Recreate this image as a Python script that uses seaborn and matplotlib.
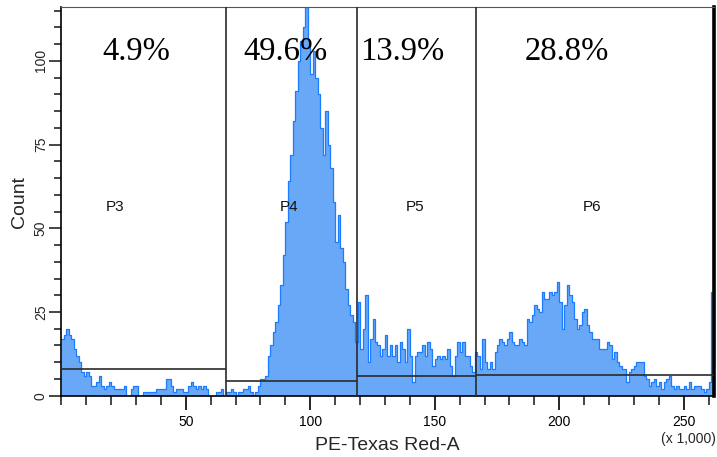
import numpy as np
import pandas as pd
import matplotlib
matplotlib.use("Agg")
import matplotlib.pyplot as plt
from matplotlib.ticker import MultipleLocator, FixedLocator
import seaborn as sns

# ---------------- data ----------------
# histogram counts, one per 1,000-unit channel (0..262 x 1,000)
counts = [
    17, 18, 20, 18, 17, 14, 12, 10, 7, 6,
    7, 6, 3, 3, 4, 6, 3, 2, 3, 4,
    3, 2, 2, 2, 2, 3, 0, 0, 2, 3,
    3, 0, 0, 1, 1, 1, 1, 1, 2, 2,
    2, 2, 5, 5, 3, 1, 2, 2, 2, 1,
    1, 3, 4, 3, 2, 3, 2, 3, 2, 0,
    0, 0, 1, 1, 2, 0, 1, 1, 2, 1,
    0, 1, 1, 2, 2, 3, 1, 0, 1, 3,
    5, 5, 6, 12, 15, 19, 22, 27, 33, 42,
    52, 64, 72, 82, 91, 100, 106, 110, 116, 106,
    96, 103, 95, 90, 80, 72, 85, 75, 68, 58,
    46, 54, 44, 40, 32, 27, 24, 22, 16, 28,
    14, 20, 30, 10, 17, 23, 16, 15, 12, 14,
    18, 12, 15, 12, 15, 10, 16, 14, 10, 20,
    12, 4, 12, 13, 13, 15, 12, 16, 14, 9,
    11, 12, 11, 12, 11, 14, 9, 6, 12, 16,
    13, 16, 12, 12, 9, 7, 13, 12, 8, 17,
    10, 8, 10, 8, 13, 15, 17, 16, 15, 17,
    19, 16, 15, 15, 17, 16, 15, 23, 22, 24,
    27, 26, 25, 31, 29, 29, 31, 30, 31, 34,
    28, 20, 27, 33, 30, 28, 23, 20, 21, 25,
    26, 21, 19, 17, 17, 17, 14, 14, 14, 16,
    15, 11, 13, 10, 9, 8, 8, 4, 7, 8,
    9, 10, 10, 10, 6, 5, 3, 4, 5, 3,
    4, 2, 4, 5, 6, 3, 2, 3, 2, 2,
    3, 2, 4, 2, 3, 3, 3, 2, 1, 2,
    4, 31,
]
n_bins = len(counts)
channels = np.arange(n_bins) + 0.5   # channel centres (x 1,000)

gate_names = ["P3", "P4", "P5", "P6"]
gate_starts = [0.0, 66.3, 118.8, 166.5]
gate_ends = [66.3, 118.8, 166.5, 262.144]
gate_levels = [8.1, 4.3, 5.8, 6.2]
gate_pcts = ["4.9%", "49.6%", "13.9%", "28.8%"]

x_major = [50, 100, 150, 200, 250]
y_major = [0, 25, 50, 75, 100]

df = pd.DataFrame({"channel": channels, "count": counts})

# ---------------- style ----------------
sns.set_style("white")
plt.rcParams["font.family"] = ["Liberation Sans", "DejaVu Sans"]

fill_color = "#68A8F6"
edge_color = "#1C7CFF"
gate_color = "#2a2a2a"

fig = plt.figure(figsize=(7.17, 4.57), dpi=100)
ax = fig.add_axes([61.25 / 717, 1 - 395.7 / 457, (714 - 61.25) / 717, (395.7 - 7.3) / 457])

sns.histplot(data=df, x="channel", weights="count", binwidth=1, binrange=(0, n_bins),
             element="step", fill=True, color=fill_color, alpha=1,
             linewidth=0, ax=ax)
sns.histplot(data=df, x="channel", weights="count", binwidth=1, binrange=(0, n_bins),
             element="step", fill=False, color=edge_color,
             linewidth=0.9, ax=ax)

ax.set_xlim(0, 262.144)
ax.set_ylim(0, 116)

# gates
for name, s, e, lvl, pct in zip(gate_names, gate_starts, gate_ends, gate_levels, gate_pcts):
    ax.hlines(lvl, s, e, color=gate_color, linewidth=1.2, zorder=5)
for s in gate_starts[1:]:
    ax.axvline(s, color=gate_color, linewidth=1.2, zorder=5)

# gate labels & percentages
label_x = [21.5, 91.4, 142.0, 213.0]
pct_x = [30.0, 89.9, 136.8, 202.9]
for name, lx, pct, px in zip(gate_names, label_x, gate_pcts, pct_x):
    ax.text(lx, 55.2, name, ha="center", va="baseline", fontsize=11, color="#111111", zorder=6)
    ax.text(px, 100.3, pct, ha="center", va="baseline", fontsize=23.5,
            family=["Liberation Serif", "DejaVu Serif"], color="black", zorder=6)

# ticks
ax.xaxis.set_major_locator(FixedLocator(x_major))
ax.xaxis.set_minor_locator(MultipleLocator(10))
ax.yaxis.set_major_locator(FixedLocator(y_major))
ax.yaxis.set_minor_locator(MultipleLocator(5))
ax.tick_params(axis="x", which="major", direction="out", length=10, width=1.2,
               labelsize=10, pad=4, bottom=True, colors="black")
ax.tick_params(axis="x", which="minor", direction="out", length=6.5, width=1.2, bottom=True)
ax.tick_params(axis="y", which="major", direction="out", length=8.6, width=1.2,
               labelsize=10, pad=1, left=True)
ax.tick_params(axis="y", which="minor", direction="out", length=5, width=1.2, left=True)
for lab in ax.get_yticklabels():
    lab.set_rotation(90)
    lab.set_va("center")

ax.set_xlabel("PE-Texas Red-A", fontsize=14, labelpad=6)
ax.set_ylabel("Count", fontsize=14, labelpad=4)

for side in ["left", "bottom"]:
    ax.spines[side].set_color("black")
    ax.spines[side].set_linewidth(1.2)
ax.spines["top"].set_color("#555555")
ax.spines["top"].set_linewidth(0.8)
ax.spines["right"].set_color("black")
ax.spines["right"].set_linewidth(2.6)

fig.text(716 / 717, 1 - 439 / 457, "(x 1,000)", ha="right", va="center", fontsize=10)

fig.savefig("out.png", dpi=100)
